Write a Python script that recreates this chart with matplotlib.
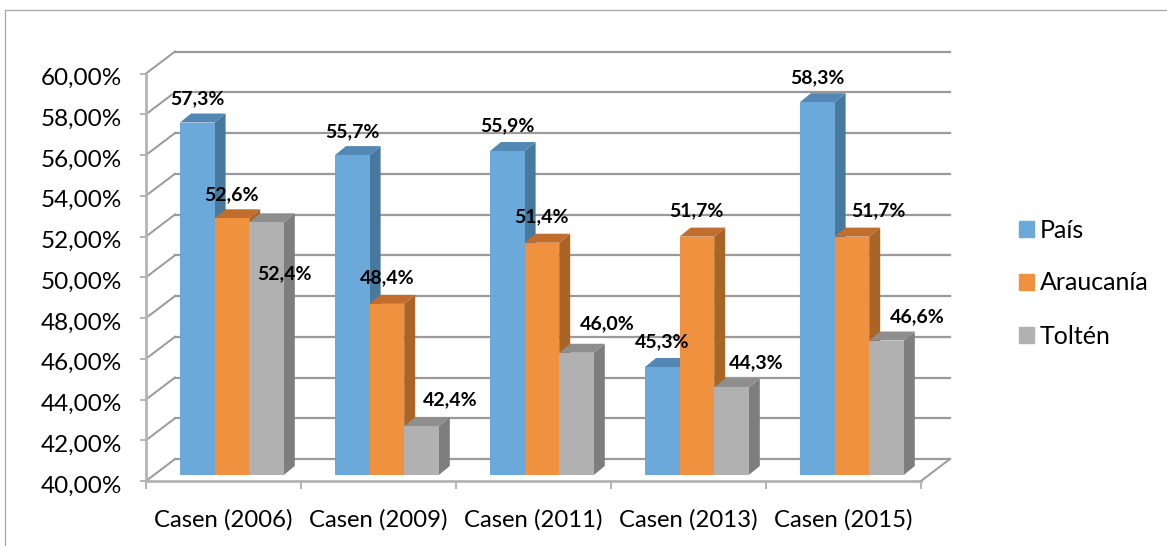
from matplotlib import pyplot as plt
from matplotlib.lines import Line2D
from matplotlib.patches import Patch, Polygon
from matplotlib.transforms import ScaledTranslation
import numpy as np

categories = ["Casen (2006)", "Casen (2009)", "Casen (2011)", "Casen (2013)", "Casen (2015)"]
pais = [57.3, 55.7, 55.9, 45.3, 58.3]
araucania = [52.6, 48.4, 51.4, 51.7, 51.7]
tolten = [52.4, 42.4, 46.0, 44.3, 46.6]
series_names = ["País", "Araucanía", "Toltén"]
y_ticks = list(range(40, 62, 2))

# front, side, top
colors = [("#6CA9DB", "#47789E", "#5388B5"),
          ("#F0913F", "#A96426", "#C06D2D"),
          ("#B1B1B1", "#7E7E7E", "#8E8E8E")]

# label nudges in pixels, from the top centre of each bar
label_offsets = [
    [(0, 24), (0, 23), (0, 25), (0, 25), (0, 24)],
    [(0, 24), (0, 26), (0, 26), (0, 26), (27, 26)],
    [(18, -51), (29, 26), (31, 29), (25, 25), (31, 24)],
]

W, H = 1167, 546
plt.rcParams['font.family'] = ['Lato', 'DejaVu Sans']

fig = plt.figure(figsize=(W / 100, H / 100), dpi=100)
ax = fig.add_axes([146 / W, (H - 481) / H, 775 / W, 407.5 / H])
ax.set_xlim(0, 5)
ax.set_ylim(40, 60)
for s in ax.spines.values():
    s.set_visible(False)

# px sizes turned into axis units
ux = 155.0
uy = 407.5 / 20
wall_dx, wall_dy = 29 / ux, 22 / uy
bar_w = 34.6 / ux
bar_start = 34 / ux
floor = 6 / uy
depth_dx, depth_dy = 11 / ux, 9 / uy
grid_c = "#9A9A9A"
axis_c = "#B4B4B4"

# walls
for t in y_ticks:
    ax.plot([wall_dx, 5 + wall_dx], [t + wall_dy, t + wall_dy], color=grid_c, lw=1.6, clip_on=False, zorder=1)
    ax.plot([0, wall_dx], [t, t + wall_dy], color=grid_c, lw=1.4, clip_on=False, zorder=1)
ax.plot([0, 0], [40, 60], color=axis_c, lw=2, clip_on=False, zorder=1)
ax.plot([0, 5], [40, 40], color=axis_c, lw=2, clip_on=False, zorder=1)
ax.plot([5, 5 + wall_dx], [40, 40 + wall_dy], color=grid_c, lw=1.4, clip_on=False, zorder=1)

# bars
values = [pais, araucania, tolten]
z = 2
for i in range(len(categories)):
    for j in range(3):
        x0 = i + bar_start + j * bar_w
        x1 = x0 + bar_w
        y0 = 40 + floor
        y1 = values[j][i] + floor
        front, side, top = colors[j]
        ax.add_patch(Polygon([(x1, y0), (x1 + depth_dx, y0 + depth_dy), (x1 + depth_dx, y1 + depth_dy), (x1, y1)],
                             fc=side, ec="none", clip_on=False, zorder=z))
        ax.add_patch(Polygon([(x0, y1), (x1, y1), (x1 + depth_dx, y1 + depth_dy), (x0 + depth_dx, y1 + depth_dy)],
                             fc=top, ec="none", clip_on=False, zorder=z))
        ax.bar(x0, y1 - y0, width=bar_w, bottom=y0, align="edge", color=front, clip_on=False, zorder=z)
        z += 1

# data labels
for j in range(3):
    for i in range(len(categories)):
        xc = i + bar_start + (j + 0.5) * bar_w
        txt = f"{values[j][i]:.1f}%".replace(".", ",")
        ax.annotate(txt, (xc, values[j][i] + floor), xytext=label_offsets[j][i], textcoords="offset pixels",
                    ha="center", va="center", fontsize=14, fontweight="bold", color="black",
                    zorder=100, annotation_clip=False)

# ticks
ax.set_yticks(y_ticks)
ax.set_yticklabels([f"{t},00%" for t in y_ticks], fontsize=17.5)
ax.tick_params(axis="y", length=4, width=1.4, color=axis_c, pad=13)
# value labels sit about 3px under their ticks
shift = ScaledTranslation(0, -3 / 100, fig.dpi_scale_trans)
for lab in ax.get_yticklabels():
    lab.set_transform(lab.get_transform() + shift)
ax.set_xticks(np.arange(6))
ax.set_xticklabels([])
ax.tick_params(axis="x", length=5.5, width=1.4, color=axis_c)
ax.set_xticks(np.arange(5) + 0.5, labels=categories, minor=True, fontsize=17.2)
ax.tick_params(axis="x", which="minor", length=0, pad=20)

handles = [Patch(color=colors[k][0]) for k in range(3)]
ax.legend(handles, series_names, loc="center left", bbox_to_anchor=(996.5 / W, (H - 283) / H),
          bbox_transform=fig.transFigure, frameon=False, fontsize=18,
          handlelength=0.6, handleheight=0.6, handletextpad=0.24, labelspacing=1.2)

# chart frame, top and left only
fig.add_artist(Line2D([5 / W, 5 / W], [0, (H - 10) / H], color="#A6A6A6", lw=0.9))
fig.add_artist(Line2D([5 / W, 1], [(H - 10) / H, (H - 10) / H], color="#A6A6A6", lw=0.9))

fig.savefig("out.png", dpi=100)
